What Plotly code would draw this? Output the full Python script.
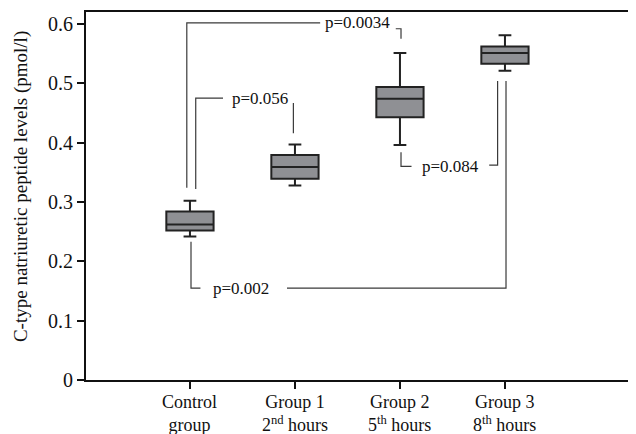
import plotly.graph_objects as go

# ---- data ----
categories_line1 = ["Control", "Group 1", "Group 2", "Group 3"]
categories_line2 = ["group", "2<sup>nd</sup> hours", "5<sup>th</sup> hours", "8<sup>th</sup> hours"]
positions = [0, 1, 2, 3]
lower = [0.242, 0.328, 0.396, 0.521]
q1 = [0.252, 0.339, 0.443, 0.533]
median = [0.262, 0.359, 0.474, 0.551]
q3 = [0.284, 0.379, 0.494, 0.562]
upper = [0.302, 0.397, 0.551, 0.581]
y_ticks = [0, 0.1, 0.2, 0.3, 0.4, 0.5, 0.6]
y_ticktext = ["0", "0.1", "0.2", "0.3", "0.4", "0.5", "0.6"]
p_texts = ["p=0.0034", "p=0.056", "p=0.084", "p=0.002"]

FONT = "Liberation Serif, Times New Roman, serif"
LINE = "#3a3a3a"

fig = go.Figure()
for i in range(4):
    fig.add_trace(go.Box(
        x=[positions[i]], q1=[q1[i]], median=[median[i]], q3=[q3[i]],
        lowerfence=[lower[i]], upperfence=[upper[i]],
        width=0.45, whiskerwidth=0.27,
        fillcolor="#8f9094", line=dict(color="#222222", width=2),
        showlegend=False, hoverinfo="skip"))

# ---- significance brackets (derived from group positions / whiskers) ----
p0, p1, p2, p3 = positions
brackets = [
    # p=0.0034 : control -> group 2
    ([(p0 - 0.03, upper[0] + 0.022), (p0 - 0.03, 0.602), (p0 + 1.24, 0.602)],
     [(p2 - 0.04, 0.592), (p2 + 0.01, 0.592), (p2 + 0.01, upper[2] + 0.024)],
     (p0 + 1.6, 0.602), p_texts[0]),
    # p=0.056 : control -> group 1
    ([(p0 + 0.055, upper[0] + 0.02), (p0 + 0.055, 0.475), (p0 + 0.315, 0.475)],
     [(p1 - 0.015, 0.467), (p1 - 0.015, upper[1] + 0.019)],
     (p0 + 0.667, 0.474), p_texts[1]),
    # p=0.084 : group 2 -> group 3
    ([(p2 + 0.01, lower[2] - 0.012), (p2 + 0.01, 0.360), (p2 + 0.11, 0.360)],
     [(p3 - 0.15, 0.362), (p3 - 0.07, 0.362), (p3 - 0.07, lower[3] - 0.017)],
     (p2 + 0.48, 0.360), p_texts[2]),
    # p=0.002 : control -> group 3
    ([(p0 + 0.01, lower[0] - 0.009), (p0 + 0.01, 0.155), (p0 + 0.10, 0.155)],
     [(p0 + 0.924, 0.155), (p3 + 0.01, 0.155), (p3 + 0.01, lower[3] - 0.017)],
     (p0 + 0.486, 0.155), p_texts[3]),
]
for left, right, tpos, txt in brackets:
    for seg in (left, right):
        fig.add_trace(go.Scatter(
            x=[pt[0] for pt in seg], y=[pt[1] for pt in seg], mode="lines",
            line=dict(color=LINE, width=1.2), showlegend=False, hoverinfo="skip"))
    fig.add_annotation(x=tpos[0], y=tpos[1], xref="x", yref="y", text=txt,
                       showarrow=False, font=dict(family=FONT, size=17, color="#111"),
                       xanchor="center", yanchor="middle")

# ---- x category labels (two lines) ----
for i in range(4):
    fig.add_annotation(x=positions[i], y=-0.026, xref="x", yref="paper",
                       text=categories_line1[i] + "<br>" + categories_line2[i],
                       showarrow=False,
                       font=dict(family=FONT, size=18, color="#111"),
                       xanchor="center", yanchor="top", align="center")

# ---- y axis title ----
fig.add_annotation(x=-0.117, y=0.526, xref="paper", yref="paper",
                   text="C-type natriuretic peptide levels (pmol/l)", textangle=-90,
                   showarrow=False, font=dict(family=FONT, size=19, color="#111"),
                   xanchor="center", yanchor="middle")

fig.update_layout(
    width=628, height=426,
    margin=dict(l=78, r=0, t=4, b=54),
    plot_bgcolor="white", paper_bgcolor="white",
    font=dict(family=FONT, size=20, color="#111"),
    xaxis=dict(range=[-0.99, 4.248], tickvals=positions, showticklabels=False,
               ticks="outside", ticklen=7, tickwidth=2, tickcolor="#111",
               showline=True, linecolor="#111", linewidth=2, mirror=True,
               showgrid=False, zeroline=False, fixedrange=True),
    yaxis=dict(range=[0, 0.6202], tickvals=y_ticks, ticktext=y_ticktext,
               ticks="outside", ticklen=7, tickwidth=2, tickcolor="#111",
               showline=True, linecolor="#111", linewidth=2, mirror=False,
               showgrid=False, zeroline=False, fixedrange=True,
               tickfont=dict(family=FONT, size=20, color="#111")),
)

fig.write_html("out.html")
